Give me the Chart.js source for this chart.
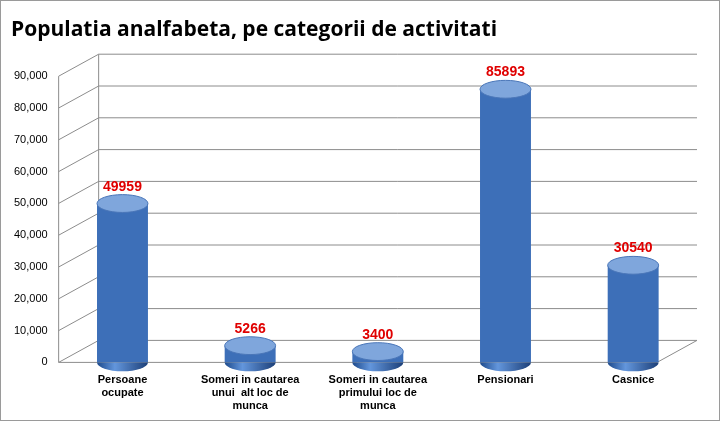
<!DOCTYPE html>
<html><head><meta charset="utf-8">
<script src="https://cdn.jsdelivr.net/npm/chart.js@4/dist/chart.umd.min.js"></script>
<style>
html,body{margin:0;padding:0;background:#fff;}
#wrap{position:relative;width:718px;height:419px;border:1px solid #9a9a9a;}
</style></head>
<body><div id="wrap"><canvas id="c" width="718" height="419"></canvas></div>
<script>
const categories=[["Persoane","ocupate"],["Someri in cautarea","unui  alt loc de","munca"],["Someri in cautarea","primului loc de","munca"],["Pensionari"],["Casnice"]];
const values=[49959,5266,3400,85893,30540];
const titleText="Populatia analfabeta, pe categorii de activitati";

function grad(c2d,x,w){const g=c2d.createLinearGradient(x-w,0,x+w,0);
 g.addColorStop(0,'#1d4a8c');g.addColorStop(0.35,'#6396dc');g.addColorStop(1,'#1c3f78');return g;}

const cyl={id:'cyl',
 beforeDatasetsDraw(ch){
  const {ctx,chartArea:a}=ch; const y=ch.scales.y;
  ctx.save();ctx.strokeStyle='#8c8c8c';ctx.lineWidth=1;
  const dx=40,dy=-22;
  y.ticks.forEach(t=>{const py=y.getPixelForValue(t.value);
   ctx.beginPath();ctx.moveTo(a.left,py);ctx.lineTo(a.left+dx,py+dy);ctx.lineTo(a.right,py+dy);ctx.stroke();});
  ctx.beginPath();ctx.moveTo(a.left+dx,y.getPixelForValue(0)+dy);ctx.lineTo(a.left+dx,y.getPixelForValue(90000)+dy);ctx.stroke();
  ctx.beginPath();ctx.moveTo(a.left,y.getPixelForValue(0));ctx.lineTo(a.left,y.getPixelForValue(90000));ctx.stroke();
  const b=y.getPixelForValue(0);
  ctx.beginPath();ctx.moveTo(a.left,b);ctx.lineTo(a.right-dx,b);ctx.lineTo(a.right,b+dy);ctx.stroke();
  ctx.restore();
 },
 afterDatasetsDraw(ch){
  const ctx=ch.ctx;const meta=ch.getDatasetMeta(0);
  meta.data.forEach((el,i)=>{
   const w=el.width/2,ry=w*0.35;
   ctx.save();
   ctx.fillStyle=grad(ctx,el.x,w);ctx.beginPath();ctx.ellipse(el.x,el.base,w,ry,0,0,Math.PI);ctx.fill();
   ctx.fillStyle='#7fa6dc';ctx.beginPath();ctx.ellipse(el.x,el.y,w,ry,0,0,Math.PI*2);ctx.fill();
   ctx.strokeStyle='#4a76b8';ctx.stroke();
   ctx.fillStyle='#e00000';ctx.font='bold 14px "Liberation Sans",Arial';ctx.textAlign='center';
   ctx.fillText(values[i],el.x,el.y-ry-4);
   ctx.restore();
  });
 }};

new Chart(document.getElementById('c'),{type:'bar',
 data:{labels:categories,datasets:[{data:values,
  backgroundColor:(c)=>{const el=c.element;
   if(!el||!isFinite(el.x)||!isFinite(el.width))return '#3d6fb8';
   return grad(c.chart.ctx,el.x,el.width/2);},
  barPercentage:0.42,categoryPercentage:0.95}]},
 options:{responsive:false,animation:false,devicePixelRatio:1,
  layout:{padding:{left:10,right:22,top:10,bottom:4}},
  plugins:{legend:{display:false},tooltip:{enabled:false},
   title:{display:true,text:titleText,align:'start',color:'#000',padding:{top:6,bottom:34},
    font:{family:'"Open Sans","Liberation Sans",Arial',size:21,weight:'bold'}}},
  scales:{
   y:{min:0,max:90000,ticks:{stepSize:10000,color:'#000',font:{family:'"Liberation Sans",Arial',size:11}},
      grid:{display:false},border:{display:false}},
   x:{grid:{display:false},border:{display:false},
      ticks:{color:'#000',maxRotation:0,font:{family:'"Liberation Sans",Arial',size:11,weight:'bold'}}}}},
 plugins:[cyl]});
</script>
</body></html>
